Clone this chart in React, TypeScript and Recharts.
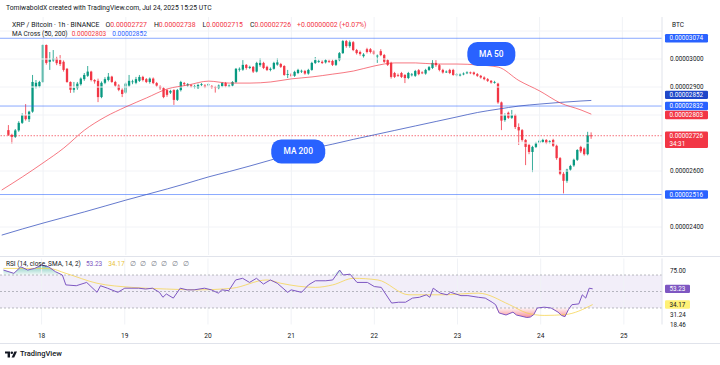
import React from "react";
import {
  ComposedChart, Bar, Line, Area, XAxis, YAxis,
  ReferenceLine, ReferenceArea, ReferenceDot,
} from "recharts";

const UP = "#089981";
const DOWN = "#f23645";
const BLUE = "#2962ff";
const MA200_COLOR = "#3550bd";
const RSI_COLOR = "#7e57c2";
const SMA_COLOR = "#f5d34a";
const TEXT = "#131722";
const FONT = "Roboto, 'Noto Sans', sans-serif";

// prices are in 1e-8 BTC. hour = hours since Jul 17 00:00 UTC
const FIRST_HOUR = 14;
// [open, high, low, close] per 1h candle, Jul 17 14:00 -> Jul 24 15:00
const CANDLES: [number, number, number, number][] = [
  // Jul 17
  [2746, 2764, 2725, 2729], [2729, 2733, 2697, 2722], [2722, 2750, 2718, 2745], [2745, 2778, 2740, 2772],
  [2772, 2806, 2768, 2800], [2800, 2839, 2780, 2785], [2785, 2815, 2775, 2812], [2812, 2943, 2808, 2918],
  [2900, 2925, 2895, 2915], [2902, 2922, 2898, 2918],
  // Jul 18
  [2918, 3052, 2915, 3050], [3050, 3052, 2980, 2986], [2990, 3025, 2961, 2998], [2995, 3032, 2990, 3002],
  [3002, 3008, 2978, 2985], [2996, 3014, 2975, 2982], [2990, 2995, 2955, 2961], [2965, 2968, 2915, 2918],
  [2918, 2920, 2879, 2890], [2890, 2918, 2880, 2896], [2896, 2918, 2890, 2912], [2910, 2934, 2905, 2930],
  [2928, 2950, 2922, 2943], [2940, 2975, 2936, 2955], [2955, 2958, 2920, 2925], [2925, 2928, 2912, 2920],
  [2922, 2930, 2846, 2864], [2864, 2920, 2860, 2915], [2915, 2935, 2910, 2928], [2925, 2950, 2920, 2937],
  [2937, 2940, 2915, 2918], [2918, 2922, 2900, 2905], [2905, 2910, 2885, 2890], [2890, 2895, 2864, 2875],
  // Jul 19
  [2880, 2916, 2876, 2912], [2905, 2943, 2900, 2922], [2918, 2926, 2910, 2920], [2915, 2936, 2910, 2928],
  [2922, 2943, 2918, 2936], [2936, 2940, 2920, 2925], [2928, 2932, 2914, 2918], [2918, 2934, 2912, 2930],
  [2930, 2934, 2910, 2914], [2914, 2918, 2900, 2905], [2902, 2906, 2890, 2896], [2896, 2900, 2860, 2864],
  [2889, 2893, 2865, 2872], [2880, 2890, 2875, 2886], [2889, 2892, 2836, 2854], [2854, 2893, 2850, 2889],
  [2889, 2922, 2884, 2918], [2914, 2918, 2904, 2910], [2906, 2914, 2900, 2910], [2906, 2910, 2898, 2902],
  [2900, 2908, 2895, 2903], [2896, 2912, 2893, 2907], [2907, 2914, 2903, 2910], [2905, 2910, 2896, 2901],
  // Jul 20
  [2906, 2914, 2902, 2910], [2903, 2907, 2894, 2899], [2900, 2904, 2880, 2898], [2896, 2909, 2892, 2905],
  [2903, 2918, 2899, 2914], [2914, 2918, 2899, 2903], [2903, 2909, 2899, 2905], [2905, 2921, 2902, 2918],
  [2918, 2968, 2914, 2965], [2962, 2970, 2955, 2965], [2962, 2996, 2958, 2979], [2979, 2982, 2962, 2968],
  [2968, 2976, 2964, 2972], [2972, 2975, 2950, 2955], [2955, 2990, 2952, 2986], [2978, 3003, 2972, 2986],
  [2986, 2990, 2964, 2968], [2972, 2976, 2957, 2961], [2961, 2970, 2956, 2965], [2965, 2990, 2962, 2986],
  [2980, 3003, 2976, 2988], [2982, 2986, 2968, 2972], [2975, 2978, 2940, 2943], [2943, 2961, 2932, 2946],
  // Jul 21
  [2945, 2950, 2935, 2940], [2940, 2958, 2936, 2954], [2950, 2965, 2946, 2961], [2955, 2962, 2950, 2958],
  [2957, 2961, 2944, 2948], [2948, 2965, 2944, 2961], [2961, 2990, 2958, 2986], [2986, 3007, 2982, 2996],
  [2990, 2998, 2986, 2993], [2990, 2995, 2982, 2986], [2988, 3000, 2984, 2996], [2993, 2998, 2986, 2990],
  [2993, 2998, 2975, 2979], [2979, 3000, 2975, 2996], [2996, 3025, 2992, 3021], [3021, 3068, 3018, 3064],
  [3064, 3068, 3040, 3046], [3046, 3066, 3040, 3060], [3060, 3064, 3028, 3032], [3032, 3036, 3016, 3021],
  [3025, 3030, 3012, 3018], [3010, 3021, 3005, 3016], [3035, 3040, 3020, 3025], [3035, 3039, 3020, 3025],
  // Jul 22
  [3028, 3032, 3014, 3018], [3010, 3016, 2986, 3012], [3028, 3035, 3010, 3014], [3014, 3018, 2986, 2990],
  [2996, 3000, 2975, 2979], [2986, 2990, 2930, 2936], [2950, 2954, 2932, 2936], [2943, 2948, 2936, 2940],
  [2950, 2954, 2932, 2936], [2943, 2946, 2914, 2932], [2932, 2954, 2928, 2950], [2943, 2950, 2938, 2945],
  [2940, 2961, 2936, 2957], [2960, 2964, 2942, 2946], [2952, 2956, 2946, 2950], [2948, 2965, 2944, 2961],
  [2961, 2975, 2957, 2971], [2968, 2996, 2964, 2986], [2986, 2996, 2972, 2978], [2978, 2982, 2956, 2961],
  [2961, 2965, 2948, 2952], [2954, 2959, 2950, 2955], [2961, 2965, 2946, 2950], [2961, 2965, 2940, 2943],
  // Jul 23
  [2943, 2950, 2938, 2945], [2943, 2948, 2938, 2944], [2946, 2952, 2942, 2948], [2950, 2956, 2946, 2952],
  [2952, 2955, 2946, 2950], [2952, 2955, 2942, 2946], [2946, 2950, 2936, 2940], [2940, 2943, 2930, 2934],
  [2934, 2938, 2924, 2928], [2928, 2932, 2918, 2922], [2922, 2925, 2912, 2916], [2916, 2922, 2912, 2918],
  [2912, 2915, 2840, 2845], [2845, 2848, 2746, 2780], [2782, 2806, 2776, 2800], [2808, 2812, 2786, 2790],
  [2790, 2818, 2786, 2800], [2800, 2804, 2750, 2757], [2757, 2770, 2693, 2745], [2746, 2750, 2705, 2711],
  [2711, 2714, 2621, 2686], [2693, 2697, 2660, 2668], [2668, 2690, 2596, 2686], [2686, 2704, 2682, 2700],
  // Jul 24
  [2700, 2712, 2695, 2708], [2704, 2715, 2700, 2711], [2711, 2714, 2696, 2700], [2704, 2710, 2698, 2706],
  [2711, 2715, 2686, 2690], [2690, 2694, 2640, 2646], [2646, 2650, 2585, 2590], [2590, 2596, 2520, 2565],
  [2565, 2608, 2558, 2605], [2605, 2622, 2600, 2618], [2620, 2644, 2615, 2640], [2640, 2678, 2636, 2675],
  [2686, 2690, 2664, 2670], [2680, 2684, 2655, 2660], [2660, 2740, 2656, 2727], [2727, 2738, 2715, 2726],
];

// moving averages read every 6 hours [hour, value]
const MA50: [number, number][] = [
  [12, 2532], [18, 2579], [24, 2629], [30, 2682], [36, 2746], [42, 2793], [48, 2829], [54, 2861],
  [60, 2893], [66, 2907], [72, 2921], [78, 2914], [84, 2914], [90, 2918], [96, 2929], [102, 2936],
  [108, 2946], [114, 2957], [120, 2975], [126, 2986], [132, 2986], [138, 2982], [144, 2982], [150, 2979],
  [156, 2971], [162, 2923], [168, 2886], [174, 2843], [180, 2818], [183, 2803],
];
const MA200: [number, number][] = [
  [12, 2371], [18, 2393], [24, 2414], [30, 2434], [36, 2454], [42, 2475], [48, 2496], [54, 2516],
  [60, 2536], [66, 2557], [72, 2579], [78, 2598], [84, 2618], [90, 2639], [96, 2661], [102, 2680],
  [108, 2696], [114, 2713], [120, 2729], [126, 2745], [132, 2761], [138, 2777], [144, 2793], [150, 2809],
  [156, 2821], [162, 2832], [168, 2839], [174, 2845], [180, 2850], [183, 2852],
];

const RSI: [number, number][] = [
  [13, 76], [16, 72], [18, 80], [20, 76], [22, 78], [24, 82], [26, 80], [28, 74], [30, 70], [31, 58],
  [34, 57], [37, 61], [40, 49], [41, 57], [43, 54], [46, 49], [48, 54], [52, 54], [54, 53], [56, 54],
  [58, 49], [59, 43], [60, 47], [62, 42], [64, 54], [66, 52], [68, 52], [71, 54], [73, 52], [75, 48],
  [76, 52], [78, 51], [80, 64], [82, 66], [84, 61], [86, 66], [88, 59], [90, 64], [92, 60], [95, 49],
  [96, 52], [99, 49], [101, 58], [103, 63], [106, 63], [108, 64], [110, 76], [111, 70], [113, 71], [115, 61],
  [118, 61], [120, 56], [122, 55], [125, 36], [127, 37], [129, 37], [131, 42], [133, 43], [135, 46], [136, 43],
  [137, 54], [139, 48], [141, 46], [142, 49], [145, 45], [147, 45], [150, 43], [152, 42], [154, 37], [155, 34],
  [156, 24], [158, 21.5], [160, 25], [161, 21.5], [164, 18.5], [165, 19], [166, 22], [167, 30], [169, 31], [171, 30],
  [173, 25], [174, 21], [175, 19.5], [176, 28], [177, 34], [179, 35], [180, 46], [181, 42], [182, 54], [183, 53.23],
];
const RSI_SMA: [number, number][] = [
  [13, 78], [26, 78], [31, 72], [40, 60], [50, 55], [60, 53], [69, 52], [79, 54], [89, 64], [93, 60],
  [103, 55], [108, 58], [114, 66], [121, 64], [130, 46], [140, 46], [150, 48], [159, 34], [164, 24],
  [169, 21], [175, 22], [183, 34.17],
];

const DAY_LABELS = ["18", "19", "20", "21", "22", "23", "24", "25"];
const DAY_HOURS = [24, 48, 72, 96, 120, 144, 168, 192];
const PRICE_TICKS = [2400, 2600, 2900, 3000];
const GRID_PRICES = [2400, 2500, 2600, 2700, 2800, 2900, 3000, 3100];
const LEVELS = [3074, 2832, 2516];
const LAST = { price: 2726, countdown: "34:31", ma50: 2803, ma200: 2852 };
const RSI_LAST = { rsi: 53.23, sma: 34.17, upper: 31.24, lower: 18.46 };

const fmtPrice = (v: number) => "0.0000" + v;

const ma50Map = new Map(MA50);
const ma200Map = new Map(MA200);
const rsiMap = new Map(RSI);
const smaMap = new Map(RSI_SMA);

// x axis categories: hour 12 .. 203 (empty space on the right)
const rows = Array.from({ length: 192 }, (_, k) => {
  const hour = 12 + k;
  const c = hour >= FIRST_HOUR ? CANDLES[hour - FIRST_HOUR] : undefined;
  return {
    hour,
    o: c ? c[0] : null,
    h: c ? c[1] : null,
    l: c ? c[2] : null,
    c: c ? c[3] : null,
    range: c ? [c[2], c[1]] : null,
    ma50: ma50Map.get(hour) ?? null,
    ma200: ma200Map.get(hour) ?? null,
    rsi: rsiMap.get(hour) ?? null,
    sma: smaMap.get(hour) ?? null,
  };
});

function Candle(props: any) {
  const { x, y, width, height, payload } = props;
  if (!payload || payload.o == null) return null;
  const { o, h, l, c } = payload;
  const top = Math.min(y, y + height);
  const span = Math.abs(height);
  const k = h === l ? 0 : span / (h - l);
  const yOf = (v: number) => top + (h - v) * k;
  const color = c >= o ? UP : DOWN;
  const cx = x + width / 2;
  const bTop = yOf(Math.max(o, c));
  const bH = Math.max(0.8, yOf(Math.min(o, c)) - bTop);
  const bw = 2.3;
  return (
    <g>
      <line x1={cx} x2={cx} y1={top} y2={top + span} stroke={color} strokeWidth={0.8} />
      <rect x={cx - bw / 2} y={bTop} width={bw} height={bH} fill={color} />
    </g>
  );
}

function AxisTag({ viewBox, text, sub, bg, color = "#fff", shift = 0, w = 43 }: any) {
  if (!viewBox) return null;
  const x = viewBox.x + viewBox.width + 3;
  const y = viewBox.y + shift;
  const h = sub ? 16.5 : 8.4;
  return (
    <g>
      <rect x={x} y={y - 4.2} width={w} height={h} rx={1.2} fill={bg} />
      <text x={x + 4.5} y={y} fill={color} fontSize={6.3} dominantBaseline="central">{text}</text>
      {sub && <text x={x + 4.5} y={y + 8} fill={color} fontSize={6.3} dominantBaseline="central">{sub}</text>}
    </g>
  );
}

function AxisText({ viewBox, text, shift = 0 }: any) {
  if (!viewBox) return null;
  return (
    <text x={viewBox.x + viewBox.width + 8} y={viewBox.y + shift} fill={TEXT} fontSize={6.3} dominantBaseline="central">
      {text}
    </text>
  );
}

function Callout({ cx, cy, text, w }: any) {
  return (
    <g>
      <rect x={cx - w / 2} y={cy - 12} width={w} height={24} rx={10} fill={BLUE} />
      <text x={cx} y={cy} fill="#fff" fontSize={8.4} fontWeight={500} textAnchor="middle" dominantBaseline="central">{text}</text>
    </g>
  );
}

function DayTick(props: any) {
  const { x, y, payload } = props;
  const idx = DAY_HOURS.indexOf(payload?.value);
  if (idx < 0) return null;
  return (
    <text x={x} y={y + 11.5} fill={TEXT} fontSize={6.6} textAnchor="middle" dominantBaseline="central">
      {DAY_LABELS[idx]}
    </text>
  );
}

function PriceChart() {
  return (
    <ComposedChart width={720} height={256} data={rows} margin={{ top: 17, right: 0, bottom: 1, left: 0 }} barCategoryGap={0} barGap={0}>
      <XAxis dataKey="hour" type="category" hide />
      <YAxis
        orientation="right" width={58} domain={[2300, 3150]} allowDataOverflow
        ticks={PRICE_TICKS} tickFormatter={fmtPrice} tickLine={false}
        axisLine={{ stroke: "#e0e3eb" }} tick={{ fontSize: 6.3, fill: TEXT }}
      />
      {GRID_PRICES.map((p) => (
        <ReferenceLine key={"g" + p} y={p} stroke="#f2f3f7" />
      ))}
      {DAY_HOURS.map((h) => (
        <ReferenceLine key={"d" + h} x={h} stroke="#f0f2f6" />
      ))}
      {LEVELS.map((p) => (
        <ReferenceLine key={"lv" + p} y={p} stroke={BLUE} strokeOpacity={0.55} strokeWidth={1} />
      ))}
      <ReferenceLine y={LAST.price} stroke={DOWN} strokeOpacity={0.7} strokeDasharray="1.5 1.5" />
      <Line dataKey="ma200" type="monotone" stroke={MA200_COLOR} strokeOpacity={0.9} strokeWidth={0.85} dot={false} connectNulls isAnimationActive={false} />
      <Bar dataKey="range" shape={(p: any) => <Candle {...p} />} isAnimationActive={false} />
      <Line dataKey="ma50" type="monotone" stroke={DOWN} strokeOpacity={0.75} strokeWidth={0.9} dot={false} connectNulls isAnimationActive={false} />
      <ReferenceDot x={154} y={3018} r={0} shape={(p: any) => <Callout cx={p.cx} cy={p.cy} text="MA 50" w={48} />} />
      <ReferenceDot x={98} y={2670} r={0} shape={(p: any) => <Callout cx={p.cx} cy={p.cy} text="MA 200" w={54} />} />
      {LEVELS.map((p) => (
        <ReferenceLine key={"tag" + p} y={p} stroke="none"
          label={(lp: any) => <AxisTag viewBox={lp.viewBox} text={fmtPrice(p)} bg={BLUE} />} />
      ))}
      <ReferenceLine y={LAST.ma200} stroke="none"
        label={(lp: any) => <AxisTag viewBox={lp.viewBox} text={fmtPrice(LAST.ma200)} bg="#1f47c8" shift={-5.6} />} />
      <ReferenceLine y={LAST.ma50} stroke="none"
        label={(lp: any) => <AxisTag viewBox={lp.viewBox} text={fmtPrice(LAST.ma50)} bg={DOWN} shift={0.8} />} />
      <ReferenceLine y={LAST.price} stroke="none"
        label={(lp: any) => <AxisTag viewBox={lp.viewBox} text={fmtPrice(LAST.price)} sub={LAST.countdown} bg={DOWN} />} />
    </ComposedChart>
  );
}

function RsiChart() {
  return (
    <ComposedChart width={720} height={94} data={rows} margin={{ top: 8.5, right: 0, bottom: 0, left: 0 }}>
      <defs>
        <linearGradient id="osFill" x1="0" y1="0" x2="0" y2="1">
          <stop offset="0%" stopColor={DOWN} stopOpacity={0.05} />
          <stop offset="100%" stopColor={DOWN} stopOpacity={0.55} />
        </linearGradient>
        <linearGradient id="obFill" x1="0" y1="0" x2="0" y2="1">
          <stop offset="0%" stopColor={UP} stopOpacity={0.55} />
          <stop offset="100%" stopColor={UP} stopOpacity={0.05} />
        </linearGradient>
      </defs>
      <XAxis dataKey="hour" type="category" interval={0} tick={<DayTick />} tickLine={false} axisLine={false} height={19.5} tickSize={0} tickMargin={0} />
      <YAxis
        orientation="right" width={58} domain={[10, 90]} allowDataOverflow
        ticks={[75]} tickFormatter={(v: number) => v.toFixed(2)} tickLine={false}
        axisLine={{ stroke: "#e0e3eb" }} tick={{ fontSize: 6.3, fill: TEXT }}
      />
      {DAY_HOURS.map((h) => (
        <ReferenceLine key={"d" + h} x={h} stroke="#f0f2f6" />
      ))}
      <ReferenceArea y1={30} y2={70} fill={RSI_COLOR} fillOpacity={0.1} stroke="none" />
      {[70, 50, 30].map((v) => (
        <ReferenceLine key={"b" + v} y={v} stroke="#787b86" strokeOpacity={0.5} strokeDasharray="2 2" />
      ))}
      <Area dataKey={(r: any) => (r.rsi == null ? null : Math.max(r.rsi, 70))} baseValue={70} type="linear"
        stroke="none" fill="url(#obFill)" fillOpacity={1} connectNulls isAnimationActive={false} />
      <Area dataKey={(r: any) => (r.rsi == null ? null : Math.min(r.rsi, 30))} baseValue={30} type="linear"
        stroke="none" fill="url(#osFill)" fillOpacity={1} connectNulls isAnimationActive={false} />
      <Line dataKey="sma" type="monotone" stroke={SMA_COLOR} strokeOpacity={0.75} strokeWidth={1} dot={false} connectNulls isAnimationActive={false} />
      <Line dataKey="rsi" type="linear" stroke={RSI_COLOR} strokeWidth={1} dot={false} connectNulls isAnimationActive={false} />
      <ReferenceLine y={RSI_LAST.rsi} stroke="none"
        label={(lp: any) => <AxisTag viewBox={lp.viewBox} text={RSI_LAST.rsi.toFixed(2)} bg={RSI_COLOR} w={25} />} />
      <ReferenceLine y={RSI_LAST.sma} stroke="none"
        label={(lp: any) => <AxisTag viewBox={lp.viewBox} text={RSI_LAST.sma.toFixed(2)} bg="#fff176" color={TEXT} w={25} />} />
      <ReferenceLine y={RSI_LAST.upper} stroke="none"
        label={(lp: any) => <AxisText viewBox={lp.viewBox} text={RSI_LAST.upper.toFixed(2)} shift={8} />} />
      <ReferenceLine y={RSI_LAST.lower} stroke="none"
        label={(lp: any) => <AxisText viewBox={lp.viewBox} text={RSI_LAST.lower.toFixed(2)} shift={7} />} />
    </ComposedChart>
  );
}

const red = { color: DOWN };

export default function App() {
  return (
    <div style={{ position: "relative", width: 720, height: 365, background: "#fff", fontFamily: FONT, color: TEXT, overflow: "hidden" }}>
      <style>{"body{margin:0}"}</style>
      <div style={{ position: "absolute", left: 0, top: 0 }}>
        <PriceChart />
      </div>
      <div style={{ position: "absolute", left: 0, top: 256, width: 720, height: 1, background: "#e0e3eb" }} />
      <div style={{ position: "absolute", left: 0, top: 250 }}>
        <RsiChart />
      </div>
      <div style={{ position: "absolute", left: 0, top: 343, width: 720, height: 1, background: "#e0e3eb" }} />

      <div style={{ position: "absolute", left: 6, top: 4, fontSize: 6.75, lineHeight: "8px", whiteSpace: "nowrap" }}>
        TomiwaboldX created with TradingView.com, Jul 24, 2025 15:25 UTC
      </div>
      <div style={{ position: "absolute", left: 12, top: 21, fontSize: 6.9, lineHeight: "8px", whiteSpace: "nowrap" }}>
        <span>XRP / Bitcoin · 1h · BINANCE</span>
        <span style={{ marginLeft: 6 }}>O<span style={red}>0.00002727</span></span>
        <span style={{ marginLeft: 7 }}>H<span style={red}>0.00002738</span></span>
        <span style={{ marginLeft: 7 }}>L<span style={red}>0.00002715</span></span>
        <span style={{ marginLeft: 7 }}>C<span style={red}>0.00002726</span></span>
        <span style={{ marginLeft: 6, ...red }}>+0.00000002 (+0.07%)</span>
      </div>
      <div style={{ position: "absolute", left: 12, top: 30, fontSize: 6.5, lineHeight: "8px", whiteSpace: "nowrap" }}>
        <span>MA Cross (50, 200)</span>
        <span style={{ marginLeft: 4, ...red }}>0.00002803</span>
        <span style={{ marginLeft: 6, color: BLUE }}>0.00002852</span>
      </div>
      <div style={{ position: "absolute", left: 672, top: 21, fontSize: 6.5, lineHeight: "8px" }}>BTC</div>

      <div style={{ position: "absolute", left: 6, top: 260, fontSize: 6.5, lineHeight: "8px", whiteSpace: "nowrap" }}>
        <span>RSI (14, close, SMA, 14, 2)</span>
        <span style={{ marginLeft: 5, color: RSI_COLOR }}>53.23</span>
        <span style={{ marginLeft: 6, color: "#e8c33a" }}>34.17</span>
        <span style={{ marginLeft: 5, color: "#787b86", wordSpacing: 3 }}>∅ ∅ ∅ ∅ ∅ ∅</span>
      </div>

      <div style={{ position: "absolute", left: 5, top: 350, display: "flex", alignItems: "center", gap: 3 }}>
        <svg width={12} height={7} viewBox="0 0 12 7">
          <path d="M0 0.5h5v6H2.6V2.6H0z" fill={TEXT} />
          <circle cx={6.8} cy={1.8} r={1.3} fill={TEXT} />
          <path d="M9.4 0.5H12L9.2 6.5H6.6z" fill={TEXT} />
        </svg>
        <span style={{ fontSize: 7.5, lineHeight: "8px", fontWeight: 500 }}>TradingView</span>
      </div>
    </div>
  );
}
